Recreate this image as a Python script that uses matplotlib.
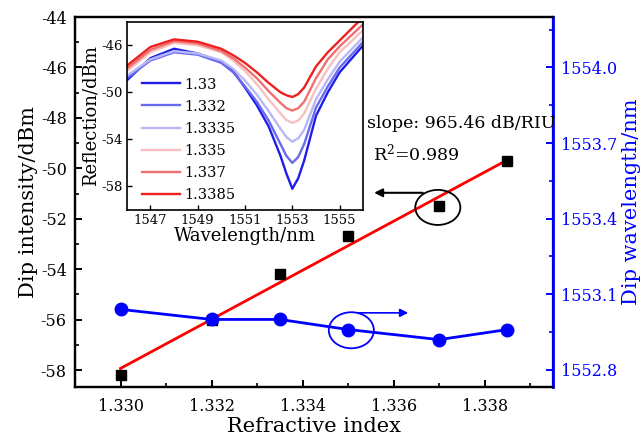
import numpy as np
import matplotlib
matplotlib.use("Agg")
import matplotlib.pyplot as plt
from matplotlib.patches import Ellipse
from matplotlib.ticker import MultipleLocator, FixedLocator

plt.rcParams['font.family'] = ['DejaVu Serif']
plt.rcParams['mathtext.fontset'] = 'dejavuserif'
plt.rcParams['axes.unicode_minus'] = False

# ---- main data ----
ri = [1.330, 1.332, 1.3335, 1.335, 1.337, 1.3385]
dip_intensity = [-58.2, -56.0, -54.2, -52.7, -51.5, -49.7]
dip_wavelength = [1553.04, 1553.00, 1553.00, 1552.96, 1552.92, 1552.96]

# ---- inset spectra ----
wl = [1546, 1547, 1548, 1549, 1550, 1550.5, 1551, 1551.5, 1552, 1552.5, 1552.75, 1553,
      1553.25, 1553.5, 1554, 1554.5, 1555, 1556]
spec_labels = ['1.33', '1.332', '1.3335', '1.335', '1.337', '1.3385']
s_1330 = [-49.0, -47.1, -46.3, -46.7, -47.4, -48.2, -49.6, -51.1, -52.9, -55.4, -56.9, -58.2,
          -57.3, -55.8, -52.0, -50.0, -48.3, -46.0]
s_1332 = [-48.8, -47.3, -46.6, -46.8, -47.5, -48.3, -49.5, -50.8, -52.4, -54.4, -55.4, -56.0,
          -55.5, -54.4, -51.3, -49.5, -47.9, -45.7]
s_13335 = [-48.6, -47.2, -46.5, -46.7, -47.3, -48.0, -49.0, -50.2, -51.6, -53.1, -53.8, -54.2,
           -53.9, -53.2, -50.6, -48.9, -47.4, -45.3]
s_1335 = [-48.2, -46.6, -45.8, -46.0, -46.6, -47.3, -48.2, -49.3, -50.6, -51.8, -52.35, -52.6,
          -52.4, -51.8, -49.7, -48.0, -46.6, -44.7]
s_1337 = [-48.0, -46.4, -45.65, -45.85, -46.5, -47.1, -47.9, -48.8, -49.9, -50.9, -51.35, -51.55,
          -51.35, -50.8, -48.8, -47.2, -46.1, -44.2]
s_13385 = [-47.75, -46.15, -45.5, -45.7, -46.3, -46.85, -47.5, -48.3, -49.2, -50.0, -50.25, -50.4,
           -50.15, -49.6, -47.8, -46.6, -45.6, -43.6]
spectra = [s_1330, s_1332, s_13335, s_1335, s_1337, s_13385]
spec_colors = ['#1e1ee8', '#6a6af0', '#b8b8f6', '#f8c0c0', '#f07070', '#ee2020']

W, H = 644, 448
fig = plt.figure(figsize=(W/100, H/100), dpi=100)
ax = fig.add_axes([75/W, 1-387/H, (553-75)/W, (387-17)/H])
ax2 = ax.twinx()

# fit line
coef = np.polyfit(ri, dip_intensity, 1)
xf = np.array([ri[0], ri[-1]])
ax.plot(xf, np.polyval(coef, xf), color='#ff0000', lw=2.0, zorder=2)
ax.plot(ri, dip_intensity, 's', color='black', ms=7.5, zorder=3)

ax2.plot(ri, dip_wavelength, '-o', color='#0000ff', lw=2.0, ms=9)

ax.set_xlim(1.329, 1.3395)
ax.set_ylim(-58.67, -44)
ax2.set_ylim(1552.732, 1554.2)

ax.xaxis.set_major_locator(FixedLocator([1.330, 1.332, 1.334, 1.336, 1.338]))
ax.xaxis.set_minor_locator(MultipleLocator(0.001))
ax.set_xticklabels(['1.330', '1.332', '1.334', '1.336', '1.338'])
ax.yaxis.set_major_locator(MultipleLocator(2))
ax.yaxis.set_minor_locator(MultipleLocator(1))
ax2.yaxis.set_major_locator(FixedLocator([1552.8, 1553.1, 1553.4, 1553.7, 1554.0]))
ax2.yaxis.set_minor_locator(FixedLocator([1552.95, 1553.25, 1553.55, 1553.85, 1554.15]))
ax2.set_yticklabels(['1552.8', '1553.1', '1553.4', '1553.7', '1554.0'])

for a in (ax, ax2):
    for s in a.spines.values():
        s.set_linewidth(1.6)
ax.tick_params(which='major', direction='in', length=5, width=1.4, labelsize=11.5, pad=6)
ax.tick_params(which='minor', direction='in', length=3, width=1.2)
ax.tick_params(axis='x', pad=8)
ax2.tick_params(which='major', direction='in', length=5, width=1.4, labelsize=11.5, pad=6,
                colors='#0000ff')
ax2.tick_params(which='minor', direction='in', length=3, width=1.2, colors='#0000ff')
ax2.spines['right'].set_color('#0000ff')
ax2.spines['right'].set_linewidth(2.0)

ax.set_xlabel('Refractive index', fontsize=15, labelpad=1)
ax.set_ylabel('Dip intensity/dBm', fontsize=15, labelpad=2)
ax2.set_ylabel('Dip wavelength/nm', fontsize=15, color='#0000ff', labelpad=3)

# annotations
ax.add_patch(Ellipse((1.33697, -51.55), 0.00099, 1.39, fill=False, ec='black', lw=1.3, zorder=4))
ax.annotate('', xy=(1.33551, -50.97), xytext=(1.3367, -50.97),
            arrowprops=dict(arrowstyle='-|>', color='black', lw=1.5, mutation_scale=12))
ax.add_patch(Ellipse((1.33507, -56.42), 0.00099, 1.43, fill=False, ec='#0000ff', lw=1.3, zorder=4))
ax.annotate('', xy=(1.33638, -55.73), xytext=(1.33516, -55.73),
            arrowprops=dict(arrowstyle='-|>', color='#0000ff', lw=1.2, mutation_scale=12))

fig.text(367/W, 1-123/H, 'slope: 965.46 dB/RIU', fontsize=12.5, va='center', ha='left')
fig.text(373/W, 1-153/H, 'R$^2$=0.989', fontsize=12.5, va='center', ha='left')

# inset
ins = fig.add_axes([126.7/W, 1-210/H, (363.3-126.7)/W, (210-21.7)/H])
ins.set_zorder(5)
for y, c, lab in zip(spectra, spec_colors, spec_labels):
    ins.plot(wl, y, color=c, lw=1.7, label=lab)
ins.set_xlim(1546, 1556)
ins.set_ylim(-60, -44)
ins.xaxis.set_major_locator(FixedLocator([1547, 1549, 1551, 1553, 1555]))
ins.yaxis.set_major_locator(FixedLocator([-46, -50, -54, -58]))
ins.tick_params(direction='in', length=3.5, width=1.0, labelsize=9.5, pad=3)
for s in ins.spines.values():
    s.set_linewidth(1.2)
ins.set_xlabel('Wavelength/nm', fontsize=13, labelpad=0)
ins.set_ylabel('Reflection/dBm', fontsize=13, labelpad=1)
ins.legend(loc='lower left', bbox_to_anchor=(0.02, -0.01), frameon=False, fontsize=10.5,
           handlelength=2.6, handletextpad=0.3, labelspacing=0.55, borderaxespad=0.3)

fig.savefig('out.png', dpi=100)
